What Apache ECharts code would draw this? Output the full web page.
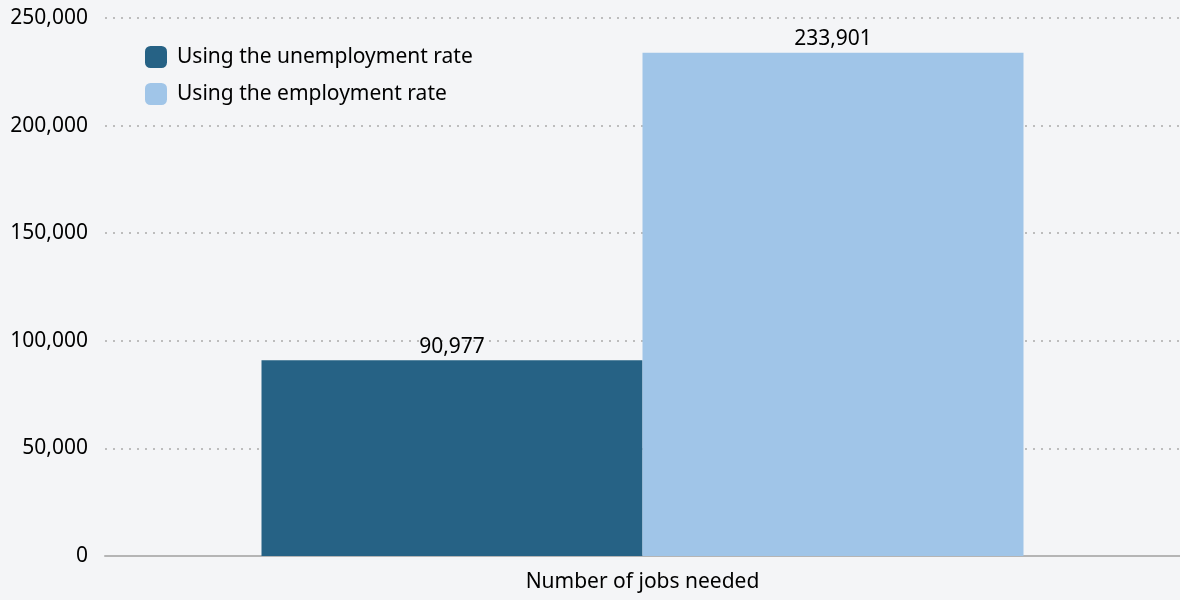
<!DOCTYPE html>
<html>
<head>
<meta charset="utf-8">
<script src="https://cdn.jsdelivr.net/npm/echarts@6/dist/echarts.min.js"></script>
<style>
  html, body { margin: 0; padding: 0; background: #f4f5f7; }
  #chart { width: 1180px; height: 600px; }
</style>
</head>
<body>
<div id="chart"></div>
<script>
const categories = ['Number of jobs needed'];
const seriesNames = ['Using the unemployment rate', 'Using the employment rate'];
const unemploymentRate = [90977];
const employmentRate = [233901];
const yTicks = [0, 50000, 100000, 150000, 200000, 250000];

const fmt = v => v.toLocaleString('en-US');
const font = '"Noto Sans", sans-serif';

const chart = echarts.init(document.getElementById('chart'));
chart.setOption({
  backgroundColor: '#f4f5f7',
  textStyle: { fontFamily: font },
  grid: { left: 105, width: 1080, top: 18, bottom: 44 },
  legend: {
    left: 140,
    top: 41,
    orient: 'vertical',
    itemWidth: 22,
    itemHeight: 22,
    itemGap: 15,
    icon: 'roundRect',
    textStyle: { fontSize: 21, color: '#000', fontFamily: font, padding: [0, 0, 0, 5] },
    data: seriesNames
  },
  xAxis: {
    type: 'category',
    data: categories,
    axisTick: { show: false },
    axisLine: { lineStyle: { color: '#b5b5b5', width: 2 } },
    axisLabel: { fontSize: 21, color: '#000', margin: 16 }
  },
  yAxis: {
    type: 'value',
    min: yTicks[0],
    max: yTicks[yTicks.length - 1],
    interval: 50000,
    axisLine: { show: false },
    axisTick: { show: false },
    axisLabel: { fontSize: 21, color: '#000', margin: 17, formatter: fmt },
    splitLine: { lineStyle: { color: '#aaaaaa', type: [2, 6], width: 1.5 } }
  },
  series: [
    {
      name: seriesNames[0],
      type: 'bar',
      data: unemploymentRate,
      barWidth: 381,
      barGap: '0%',
      itemStyle: { color: '#266285' },
      label: { show: true, position: 'top', fontSize: 21, color: '#000', distance: 3, formatter: p => fmt(p.value) }
    },
    {
      name: seriesNames[1],
      type: 'bar',
      data: employmentRate,
      barWidth: 381,
      barGap: '0%',
      itemStyle: { color: '#a0c5e8' },
      label: { show: true, position: 'top', fontSize: 21, color: '#000', distance: 3, formatter: p => fmt(p.value) }
    }
  ]
});
</script>
</body>
</html>
